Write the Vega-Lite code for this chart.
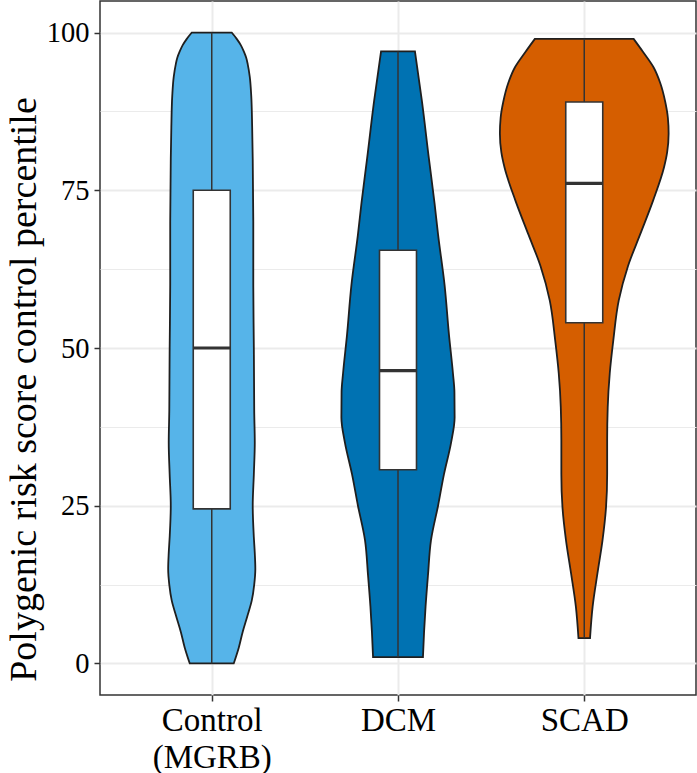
{
  "$schema": "https://vega.github.io/schema/vega-lite/v6.json",
  "width": 596,
  "height": 694,
  "autosize": "none",
  "padding": {"left": 100, "top": 1, "right": 1, "bottom": 78},
  "background": "white",
  "config": {
    "view": {"stroke": "#333333", "strokeWidth": 1.5},
    "font": "Liberation Serif",
    "scale": {"continuousPadding": 0}
  },
  "resolve": {"axis": {"x": "independent", "y": "independent"}},
  "datasets": {
    "violin": [
      {"group": "Control (MGRB)", "v": 0, "w": 0.118},
      {"group": "Control (MGRB)", "v": 2.5, "w": 0.145},
      {"group": "Control (MGRB)", "v": 5, "w": 0.166},
      {"group": "Control (MGRB)", "v": 7.5, "w": 0.191},
      {"group": "Control (MGRB)", "v": 10, "w": 0.215},
      {"group": "Control (MGRB)", "v": 12.5, "w": 0.228},
      {"group": "Control (MGRB)", "v": 15, "w": 0.234},
      {"group": "Control (MGRB)", "v": 17.5, "w": 0.231},
      {"group": "Control (MGRB)", "v": 20, "w": 0.226},
      {"group": "Control (MGRB)", "v": 25, "w": 0.22},
      {"group": "Control (MGRB)", "v": 30, "w": 0.226},
      {"group": "Control (MGRB)", "v": 35, "w": 0.231},
      {"group": "Control (MGRB)", "v": 40, "w": 0.228},
      {"group": "Control (MGRB)", "v": 50, "w": 0.226},
      {"group": "Control (MGRB)", "v": 60, "w": 0.223},
      {"group": "Control (MGRB)", "v": 70, "w": 0.223},
      {"group": "Control (MGRB)", "v": 80, "w": 0.22},
      {"group": "Control (MGRB)", "v": 85, "w": 0.217},
      {"group": "Control (MGRB)", "v": 90, "w": 0.212},
      {"group": "Control (MGRB)", "v": 93, "w": 0.204},
      {"group": "Control (MGRB)", "v": 95, "w": 0.193},
      {"group": "Control (MGRB)", "v": 96, "w": 0.185},
      {"group": "Control (MGRB)", "v": 97, "w": 0.172},
      {"group": "Control (MGRB)", "v": 98, "w": 0.156},
      {"group": "Control (MGRB)", "v": 99, "w": 0.134},
      {"group": "Control (MGRB)", "v": 100, "w": 0.107},
      {"group": "DCM", "v": 1, "w": 0.134},
      {"group": "DCM", "v": 5, "w": 0.14},
      {"group": "DCM", "v": 9, "w": 0.148},
      {"group": "DCM", "v": 14, "w": 0.161},
      {"group": "DCM", "v": 19.5, "w": 0.177},
      {"group": "DCM", "v": 25, "w": 0.215},
      {"group": "DCM", "v": 30, "w": 0.247},
      {"group": "DCM", "v": 35, "w": 0.285},
      {"group": "DCM", "v": 39, "w": 0.304},
      {"group": "DCM", "v": 43, "w": 0.303},
      {"group": "DCM", "v": 46, "w": 0.295},
      {"group": "DCM", "v": 52, "w": 0.274},
      {"group": "DCM", "v": 60, "w": 0.25},
      {"group": "DCM", "v": 68, "w": 0.215},
      {"group": "DCM", "v": 73, "w": 0.196},
      {"group": "DCM", "v": 80, "w": 0.166},
      {"group": "DCM", "v": 89, "w": 0.129},
      {"group": "DCM", "v": 97, "w": 0.091},
      {"group": "SCAD", "v": 4, "w": 0.031},
      {"group": "SCAD", "v": 9, "w": 0.045},
      {"group": "SCAD", "v": 14.3, "w": 0.071},
      {"group": "SCAD", "v": 19.5, "w": 0.098},
      {"group": "SCAD", "v": 24.8, "w": 0.117},
      {"group": "SCAD", "v": 30, "w": 0.123},
      {"group": "SCAD", "v": 35.4, "w": 0.123},
      {"group": "SCAD", "v": 40.6, "w": 0.126},
      {"group": "SCAD", "v": 46, "w": 0.137},
      {"group": "SCAD", "v": 51.2, "w": 0.156},
      {"group": "SCAD", "v": 57.5, "w": 0.185},
      {"group": "SCAD", "v": 63, "w": 0.235},
      {"group": "SCAD", "v": 68, "w": 0.3},
      {"group": "SCAD", "v": 73.4, "w": 0.37},
      {"group": "SCAD", "v": 78.6, "w": 0.428},
      {"group": "SCAD", "v": 81, "w": 0.445},
      {"group": "SCAD", "v": 84, "w": 0.453},
      {"group": "SCAD", "v": 86.5, "w": 0.449},
      {"group": "SCAD", "v": 89, "w": 0.435},
      {"group": "SCAD", "v": 92, "w": 0.408},
      {"group": "SCAD", "v": 94.5, "w": 0.372},
      {"group": "SCAD", "v": 97, "w": 0.314},
      {"group": "SCAD", "v": 99, "w": 0.265}
    ],
    "box": [
      {"group": "Control (MGRB)", "min": 0, "q1": 24.5, "median": 50, "q3": 75, "max": 100},
      {"group": "DCM", "min": 1, "q1": 30.7, "median": 46.4, "q3": 65.5, "max": 97},
      {"group": "SCAD", "min": 4, "q1": 54, "median": 76.1, "q3": 89, "max": 99}
    ]
  },
  "layer": [
    {
      "data": {"name": "violin"},
      "transform": [
        {"calculate": "indexof(['Control (MGRB)','DCM','SCAD'], datum.group) + 1", "as": "gi"},
        {"calculate": "datum.gi - datum.w", "as": "lo"},
        {"calculate": "datum.gi + datum.w", "as": "hi"}
      ],
      "mark": {"type": "area", "orient": "horizontal", "interpolate": "monotone", "stroke": "#1f1f1f", "strokeWidth": 1.8, "fillOpacity": 1},
      "encoding": {
        "y": {
          "field": "v", "type": "quantitative",
          "scale": {"domain": [-5, 105], "nice": false, "zero": false},
          "axis": {
            "orient": "left",
            "values": [0, 12.5, 25, 37.5, 50, 62.5, 75, 87.5, 100],
            "labelExpr": "datum.value % 25 === 0 ? format(datum.value, 'd') : ''",
            "domain": false,
            "grid": true,
            "gridColor": "#EBEBEB",
            "gridWidth": {"condition": {"test": "datum.value % 25 !== 0", "value": 1.1}, "value": 2},
            "ticks": true,
            "tickSize": 6,
            "tickWidth": 1.5,
            "tickColor": "#333333",
            "tickOpacity": {"condition": {"test": "datum.value % 25 !== 0", "value": 0}, "value": 1},
            "labelFont": "Liberation Serif",
            "labelFontSize": 28.5,
            "labelColor": "#000000",
            "labelPadding": 5,
            "title": "Polygenic risk score control percentile",
            "titleFont": "Liberation Serif",
            "titleFontSize": 38,
            "titleFontWeight": "normal",
            "titleColor": "#000000",
            "titleAngle": 270,
            "titleAlign": "center",
            "titleBaseline": "alphabetic",
            "titleX": -65,
            "titleY": 388
          }
        },
        "x": {
          "field": "lo", "type": "quantitative",
          "scale": {"domain": [0.4, 3.6], "nice": false, "zero": false, "padding": 0},
          "axis": {
            "orient": "bottom",
            "values": [1, 2, 3],
            "labelExpr": "datum.value == 1 ? ['Control', '(MGRB)'] : datum.value == 2 ? 'DCM' : 'SCAD'",
            "domain": false,
            "grid": true,
            "gridColor": "#EBEBEB",
            "gridWidth": 2,
            "tickSize": 6,
            "tickWidth": 1.5,
            "tickColor": "#333333",
            "labelFont": "Liberation Serif",
            "labelFontSize": 33,
            "labelColor": "#000000",
            "labelPadding": 3,
            "labelBaseline": "top",
            "labelLineHeight": 37,
            "labelFlush": false,
            "labelOverlap": false,
            "title": null
          }
        },
        "x2": {"field": "hi"},
        "color": {
          "field": "group", "type": "nominal",
          "scale": {"domain": ["Control (MGRB)", "DCM", "SCAD"], "range": ["#56B4E9", "#0072B2", "#D55E00"]},
          "legend": null
        }
      }
    },
    {
      "data": {"name": "box"},
      "transform": [
        {"calculate": "indexof(['Control (MGRB)','DCM','SCAD'], datum.group) + 1", "as": "gi"}
      ],
      "mark": {"type": "rule", "color": "#333333", "strokeWidth": 1.5},
      "encoding": {
        "x": {"field": "gi", "type": "quantitative", "axis": null},
        "y": {"field": "min", "type": "quantitative", "axis": null},
        "y2": {"field": "max"}
      }
    },
    {
      "data": {"name": "box"},
      "transform": [
        {"calculate": "indexof(['Control (MGRB)','DCM','SCAD'], datum.group) + 1", "as": "gi"}
      ],
      "mark": {"type": "bar", "fill": "white", "stroke": "#333333", "strokeWidth": 1.6, "size": 37, "orient": "vertical"},
      "encoding": {
        "x": {"field": "gi", "type": "quantitative", "axis": null},
        "y": {"field": "q1", "type": "quantitative", "axis": null},
        "y2": {"field": "q3"}
      }
    },
    {
      "data": {"name": "box"},
      "transform": [
        {"calculate": "indexof(['Control (MGRB)','DCM','SCAD'], datum.group) + 1", "as": "gi"}
      ],
      "mark": {"type": "tick", "orient": "horizontal", "color": "#333333", "size": 37, "thickness": 3.2, "opacity": 1},
      "encoding": {
        "x": {"field": "gi", "type": "quantitative", "axis": null},
        "y": {"field": "median", "type": "quantitative", "axis": null}
      }
    }
  ]
}
